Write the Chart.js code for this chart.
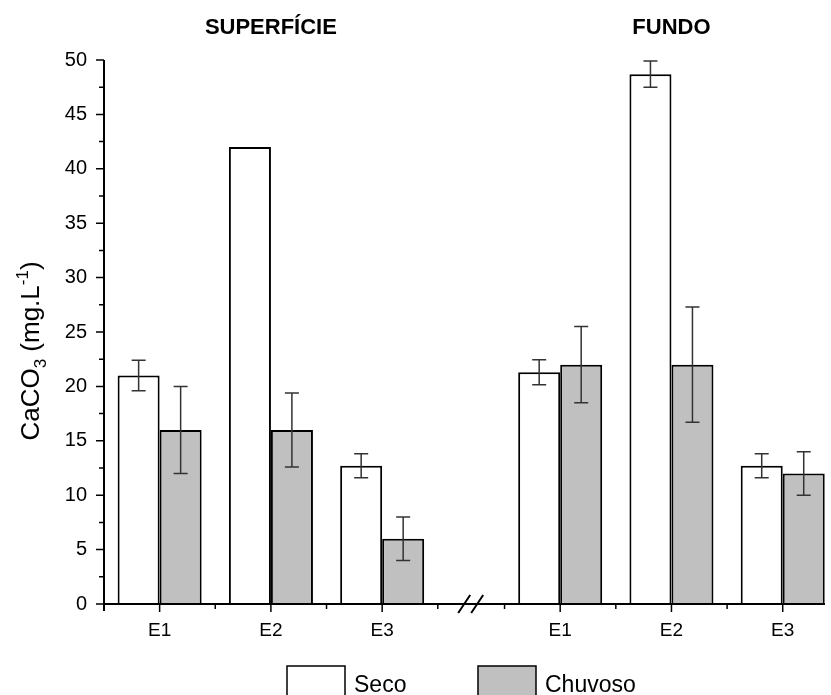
<!DOCTYPE html>
<html>
<head>
<meta charset="utf-8">
<script src="https://cdn.jsdelivr.net/npm/chart.js@4.4.0/dist/chart.umd.min.js"></script>
<style>
  html, body { margin: 0; padding: 0; background: #fff; }
</style>
</head>
<body>
<canvas id="chart" width="831" height="695"></canvas>
<script>
// Data
const categories = ['E1', 'E2', 'E3'];
const groups = ['SUPERFÍCIE', 'FUNDO'];
const seriesNames = ['Seco', 'Chuvoso'];
const secoValues = [21, 42, 12.7, 21.3, 48.7, 12.7];
const secoErrors = [1.4, 0, 1.1, 1.15, 1.2, 1.1];
const chuvosoValues = [16, 16, 6, 22, 22, 12];
const chuvosoErrors = [4, 3.4, 2, 3.5, 5.3, 2];
const yTicks = [0, 5, 10, 15, 20, 25, 30, 35, 40, 45, 50];

// second group sits after the axis break
const groupShift = 3.6;
const xPos = secoValues.map((v, i) => Math.floor(i / 3) * groupShift + (i % 3) + 0.5);
const xMax = groupShift + 2.88;

const FONT = '"Liberation Sans", Arial, sans-serif';

const decorations = {
    id: 'decorations',
    afterDatasetsDraw(chart) {
        const { ctx, scales: { y } } = chart;
        // error bars
        [[secoValues, secoErrors], [chuvosoValues, chuvosoErrors]].forEach(([vals, errs], d) => {
            chart.getDatasetMeta(d).data.forEach((bar, i) => {
                if (!errs[i]) return;
                const top = y.getPixelForValue(vals[i] + errs[i]);
                const bot = y.getPixelForValue(vals[i] - errs[i]);
                ctx.save();
                ctx.strokeStyle = '#333';
                ctx.lineWidth = 1.5;
                ctx.beginPath();
                ctx.moveTo(bar.x, top); ctx.lineTo(bar.x, bot);
                ctx.moveTo(bar.x - 7, top); ctx.lineTo(bar.x + 7, top);
                ctx.moveTo(bar.x - 7, bot); ctx.lineTo(bar.x + 7, bot);
                ctx.stroke();
                ctx.restore();
            });
        });
    },
    afterDraw(chart) {
        const { ctx, scales: { x, y }, chartArea: a } = chart;
        ctx.save();
        ctx.strokeStyle = '#000';
        ctx.fillStyle = '#000';

        // axis lines
        ctx.lineWidth = 2;
        ctx.beginPath();
        ctx.moveTo(a.left, a.top); ctx.lineTo(a.left, a.bottom + 7);
        ctx.moveTo(a.left - 1, a.bottom); ctx.lineTo(a.right, a.bottom);
        ctx.stroke();

        // y ticks: major every 5, minor in between
        ctx.lineWidth = 1.5;
        ctx.beginPath();
        yTicks.forEach((v, i) => {
            const py = y.getPixelForValue(v);
            ctx.moveTo(a.left, py); ctx.lineTo(a.left - 8, py);
            if (i < yTicks.length - 1) {
                const pm = y.getPixelForValue(v + 2.5);
                ctx.moveTo(a.left, pm); ctx.lineTo(a.left - 5, pm);
            }
        });
        // x ticks: major at categories, minor at slot edges
        xPos.forEach(v => {
            const px = x.getPixelForValue(v);
            ctx.moveTo(px, a.bottom); ctx.lineTo(px, a.bottom + 8);
        });
        [1, 2, 3, groupShift, groupShift + 1, groupShift + 2].forEach(v => {
            const px = x.getPixelForValue(v);
            ctx.moveTo(px, a.bottom); ctx.lineTo(px, a.bottom + 5);
        });
        ctx.stroke();

        // axis break
        const bx = x.getPixelForValue((3 + groupShift) / 2);
        ctx.lineWidth = 2;
        ctx.beginPath();
        [-7, 6].forEach(dx => {
            ctx.moveTo(bx + dx - 6, a.bottom + 9);
            ctx.lineTo(bx + dx + 6, a.bottom - 9);
        });
        ctx.stroke();

        // group titles
        ctx.font = 'bold 22px ' + FONT;
        ctx.textAlign = 'center';
        ctx.textBaseline = 'middle';
        groups.forEach((g, gi) => {
            ctx.fillText(g, x.getPixelForValue(gi * groupShift + 1.5), 28);
        });

        // y axis title with sub/superscript
        const parts = [
            ['CaCO', 26, 0], ['3', 17, 7], [' (mg.L', 26, 0], ['-1', 17, -11], [')', 26, 0]
        ];
        ctx.translate(31, 351);
        ctx.rotate(-Math.PI / 2);
        ctx.textAlign = 'left';
        ctx.textBaseline = 'alphabetic';
        let total = 0;
        parts.forEach(([t, s]) => { ctx.font = s + 'px ' + FONT; total += ctx.measureText(t).width; });
        let cx = -total / 2;
        parts.forEach(([t, s, off]) => {
            ctx.font = s + 'px ' + FONT;
            ctx.fillText(t, cx, 8 + off);
            cx += ctx.measureText(t).width;
        });
        ctx.setTransform(1, 0, 0, 1, 0, 0);

        // legend
        const items = [[287, '#ffffff'], [478, '#c0c0c0']];
        ctx.font = '23px ' + FONT;
        ctx.textAlign = 'left';
        ctx.textBaseline = 'alphabetic';
        items.forEach(([lx, fill], i) => {
            ctx.fillStyle = fill;
            ctx.fillRect(lx, 666, 58, 34);
            ctx.lineWidth = 1.5;
            ctx.strokeStyle = '#000';
            ctx.strokeRect(lx, 666, 58, 34);
            ctx.fillStyle = '#000';
            ctx.fillText(seriesNames[i], lx + 67, 692);
        });
        ctx.restore();
    }
};

new Chart(document.getElementById('chart'), {
    type: 'bar',
    data: {
        datasets: [
            {
                label: seriesNames[0],
                data: secoValues.map((v, i) => ({ x: xPos[i], y: v })),
                backgroundColor: '#ffffff',
                borderColor: '#000',
                borderWidth: 2
            },
            {
                label: seriesNames[1],
                data: chuvosoValues.map((v, i) => ({ x: xPos[i], y: v })),
                backgroundColor: '#c0c0c0',
                borderColor: '#000',
                borderWidth: 2
            }
        ]
    },
    options: {
        responsive: false,
        animation: false,
        categoryPercentage: 0.755,
        barPercentage: 1,
        layout: { padding: { top: 60, right: 6, left: 0, bottom: 0 } },
        plugins: { legend: { display: false }, tooltip: { enabled: false } },
        scales: {
            x: {
                type: 'linear',
                min: 0,
                max: xMax,
                offset: false,
                grid: { display: false, drawTicks: false },
                border: { display: false },
                afterBuildTicks: scale => { scale.ticks = xPos.map(v => ({ value: v })); },
                afterFit: scale => { scale.height = 91; },
                ticks: {
                    autoSkip: false,
                    maxRotation: 0,
                    padding: 15,
                    color: '#000',
                    font: { family: FONT, size: 19 },
                    callback: (v, i) => categories[i % 3]
                }
            },
            y: {
                min: 0,
                max: 50,
                grid: { display: false, drawTicks: false },
                border: { display: false },
                afterBuildTicks: scale => { scale.ticks = yTicks.map(v => ({ value: v })); },
                afterFit: scale => { scale.width = 104; },
                ticks: {
                    padding: 17,
                    color: '#000',
                    font: { family: FONT, size: 20 }
                }
            }
        }
    },
    plugins: [decorations]
});
</script>
</body>
</html>
